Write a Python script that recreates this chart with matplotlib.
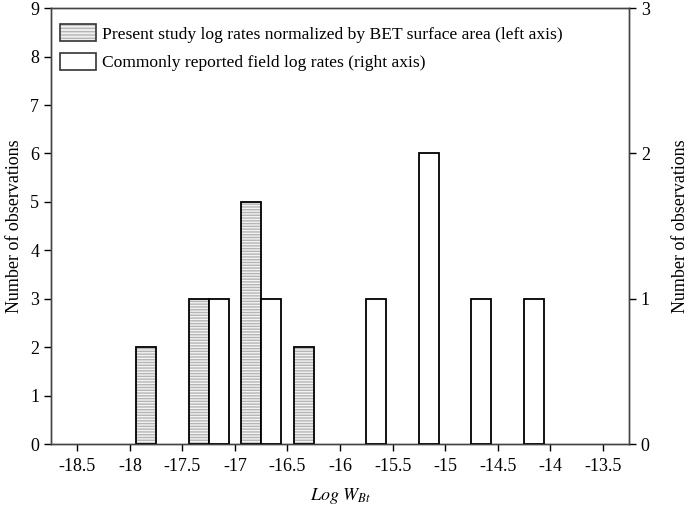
import numpy as np
import matplotlib.pyplot as plt
from matplotlib.patches import Patch
from matplotlib.legend_handler import HandlerTuple

plt.rcParams['font.family'] = ['Liberation Serif', 'DejaVu Serif']
plt.rcParams['mathtext.fontset'] = 'stix'

# bin centres (log W_Bt) and counts
study_bins = [-17.75, -17.25, -16.75, -16.25]
study_counts = [2, 3, 5, 2]            # left axis
field_bins = [-17.25, -16.75, -15.75, -15.25, -14.75, -14.25]
field_counts = [1, 1, 1, 2, 1, 1]      # right axis

xticks = [-18.5, -18, -17.5, -17, -16.5, -16, -15.5, -15, -14.5, -14, -13.5]

w = 0.19
fs = 13

fig = plt.figure(figsize=(6.89, 5.11), dpi=100)
ax = fig.add_axes([0.074, 0.131, 0.839, 0.853])
ax2 = ax.twinx()

# hatched bars (fill + hatch, then black outline)
ax.bar(np.array(study_bins) - w / 2, study_counts, width=w, color='#f4f4f4',
       edgecolor='#b5b5b5', hatch='------', linewidth=0, zorder=2)
ax.bar(np.array(study_bins) - w / 2, study_counts, width=w, color='none',
       edgecolor='black', linewidth=1.3, zorder=3)

ax2.bar(np.array(field_bins) + w / 2, field_counts, width=w, color='white',
        edgecolor='black', linewidth=1.3, zorder=3)

ax.set_xlim(-18.75, -13.25)
ax.set_ylim(0, 9)
ax2.set_ylim(0, 3)
ax.set_yticks(range(10))
ax2.set_yticks(range(4))
ax.set_xticks(xticks)
ax.set_xticklabels([f'{t:g}' for t in xticks])

for a in (ax, ax2):
    a.tick_params(direction='out', length=5, width=1, labelsize=fs, colors='black')
    for s in a.spines.values():
        s.set_linewidth(1.0)
        s.set_color('#444444')

ax.set_ylabel('Number of observations', fontsize=fs, labelpad=5)
ax2.set_ylabel('Number of observations', fontsize=fs, labelpad=16)
ax.set_xlabel(r'$Log\ W_{Bt}$', fontsize=fs, labelpad=8)
ax.xaxis.set_tick_params(pad=5)

h1 = (Patch(facecolor='#f0f0f0', edgecolor='#b5b5b5', hatch='-----', linewidth=0),
      Patch(facecolor='none', edgecolor='#333333', linewidth=1.2))
h2 = Patch(facecolor='white', edgecolor='#333333', linewidth=1.2)
ax.legend([h1, h2],
          ['Present study log rates normalized by BET surface area (left axis)',
           'Commonly reported field log rates (right axis)'],
          handler_map={tuple: HandlerTuple(ndivide=1)},
          loc='upper left', bbox_to_anchor=(9 / 578, 1 - 16 / 436),
          frameon=False, fontsize=12.6, borderpad=0, borderaxespad=0,
          handlelength=2.05, handleheight=1.1, handletextpad=0.35,
          labelspacing=0.6)

fig.savefig('out.png', dpi=100)
